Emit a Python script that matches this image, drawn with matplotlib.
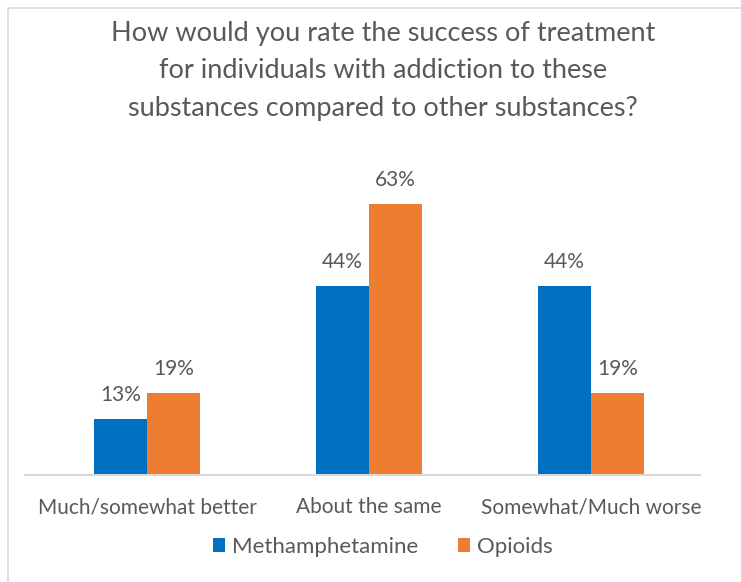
import matplotlib.pyplot as plt
from matplotlib.patches import Rectangle

# Survey responses (percent)
categories = ["Much/somewhat better", "About the same", "Somewhat/Much worse"]
methamphetamine = [13, 44, 44]
opioids = [19, 63, 19]

blue = "#0070C0"
orange = "#ED7D31"
text_color = "#595959"

plt.rcParams['font.family'] = ['Lato', 'DejaVu Sans']

W, H = 741, 582
fig = plt.figure(figsize=(W / 100, H / 100), dpi=100)

# thin frame around the chart area
fig.patches.append(Rectangle((8 / W, -0.1), 1.2, 1 - 8 / H + 0.1, transform=fig.transFigure,
                             fill=False, edgecolor="#D9D9D9", linewidth=1.2))

ax = fig.add_axes([25 / W, (H - 475) / H, (700 - 25) / W, (475 - 165) / H])

bar_width = 0.24
index = range(len(categories))
bars1 = ax.bar([i - bar_width / 2 for i in index], methamphetamine, bar_width,
               color=blue, label="Methamphetamine")
bars2 = ax.bar([i + bar_width / 2 for i in index], opioids, bar_width,
               color=orange, label="Opioids")

ax.set_xlim(-0.55, 2.49)
ax.set_ylim(0, 72)

for bars in (bars1, bars2):
    for bar in bars:
        height = bar.get_height()
        ax.annotate('{}%'.format(height),
                    xy=(bar.get_x() + bar.get_width() / 2, height),
                    xytext=(0, 10), textcoords="offset points",
                    ha='center', va='bottom', fontsize=15, color=text_color)

ax.set_xticks(list(index))
ax.set_xticklabels(categories, fontsize=15, color=text_color)
ax.tick_params(axis='x', length=0, pad=16)
ax.set_yticks([])
for side in ("top", "right", "left"):
    ax.spines[side].set_visible(False)
ax.spines["bottom"].set_color("#D9D9D9")
ax.spines["bottom"].set_linewidth(1.5)

fig.text(383 / W, 1 - 71 / H,
         "How would you rate the success of treatment\n"
         "for individuals with addiction to these\n"
         "substances compared to other substances?",
         ha='center', va='center', fontsize=19.5, color=text_color, linespacing=1.62)

fig.legend(handles=[bars1, bars2], loc='center', bbox_to_anchor=(383 / W, 1 - 547 / H),
           ncol=2, frameon=False, fontsize=16, labelcolor=text_color,
           handlelength=0.55, handleheight=0.55, handletextpad=0.3, columnspacing=1.8)

fig.savefig("out.png", dpi=100)
